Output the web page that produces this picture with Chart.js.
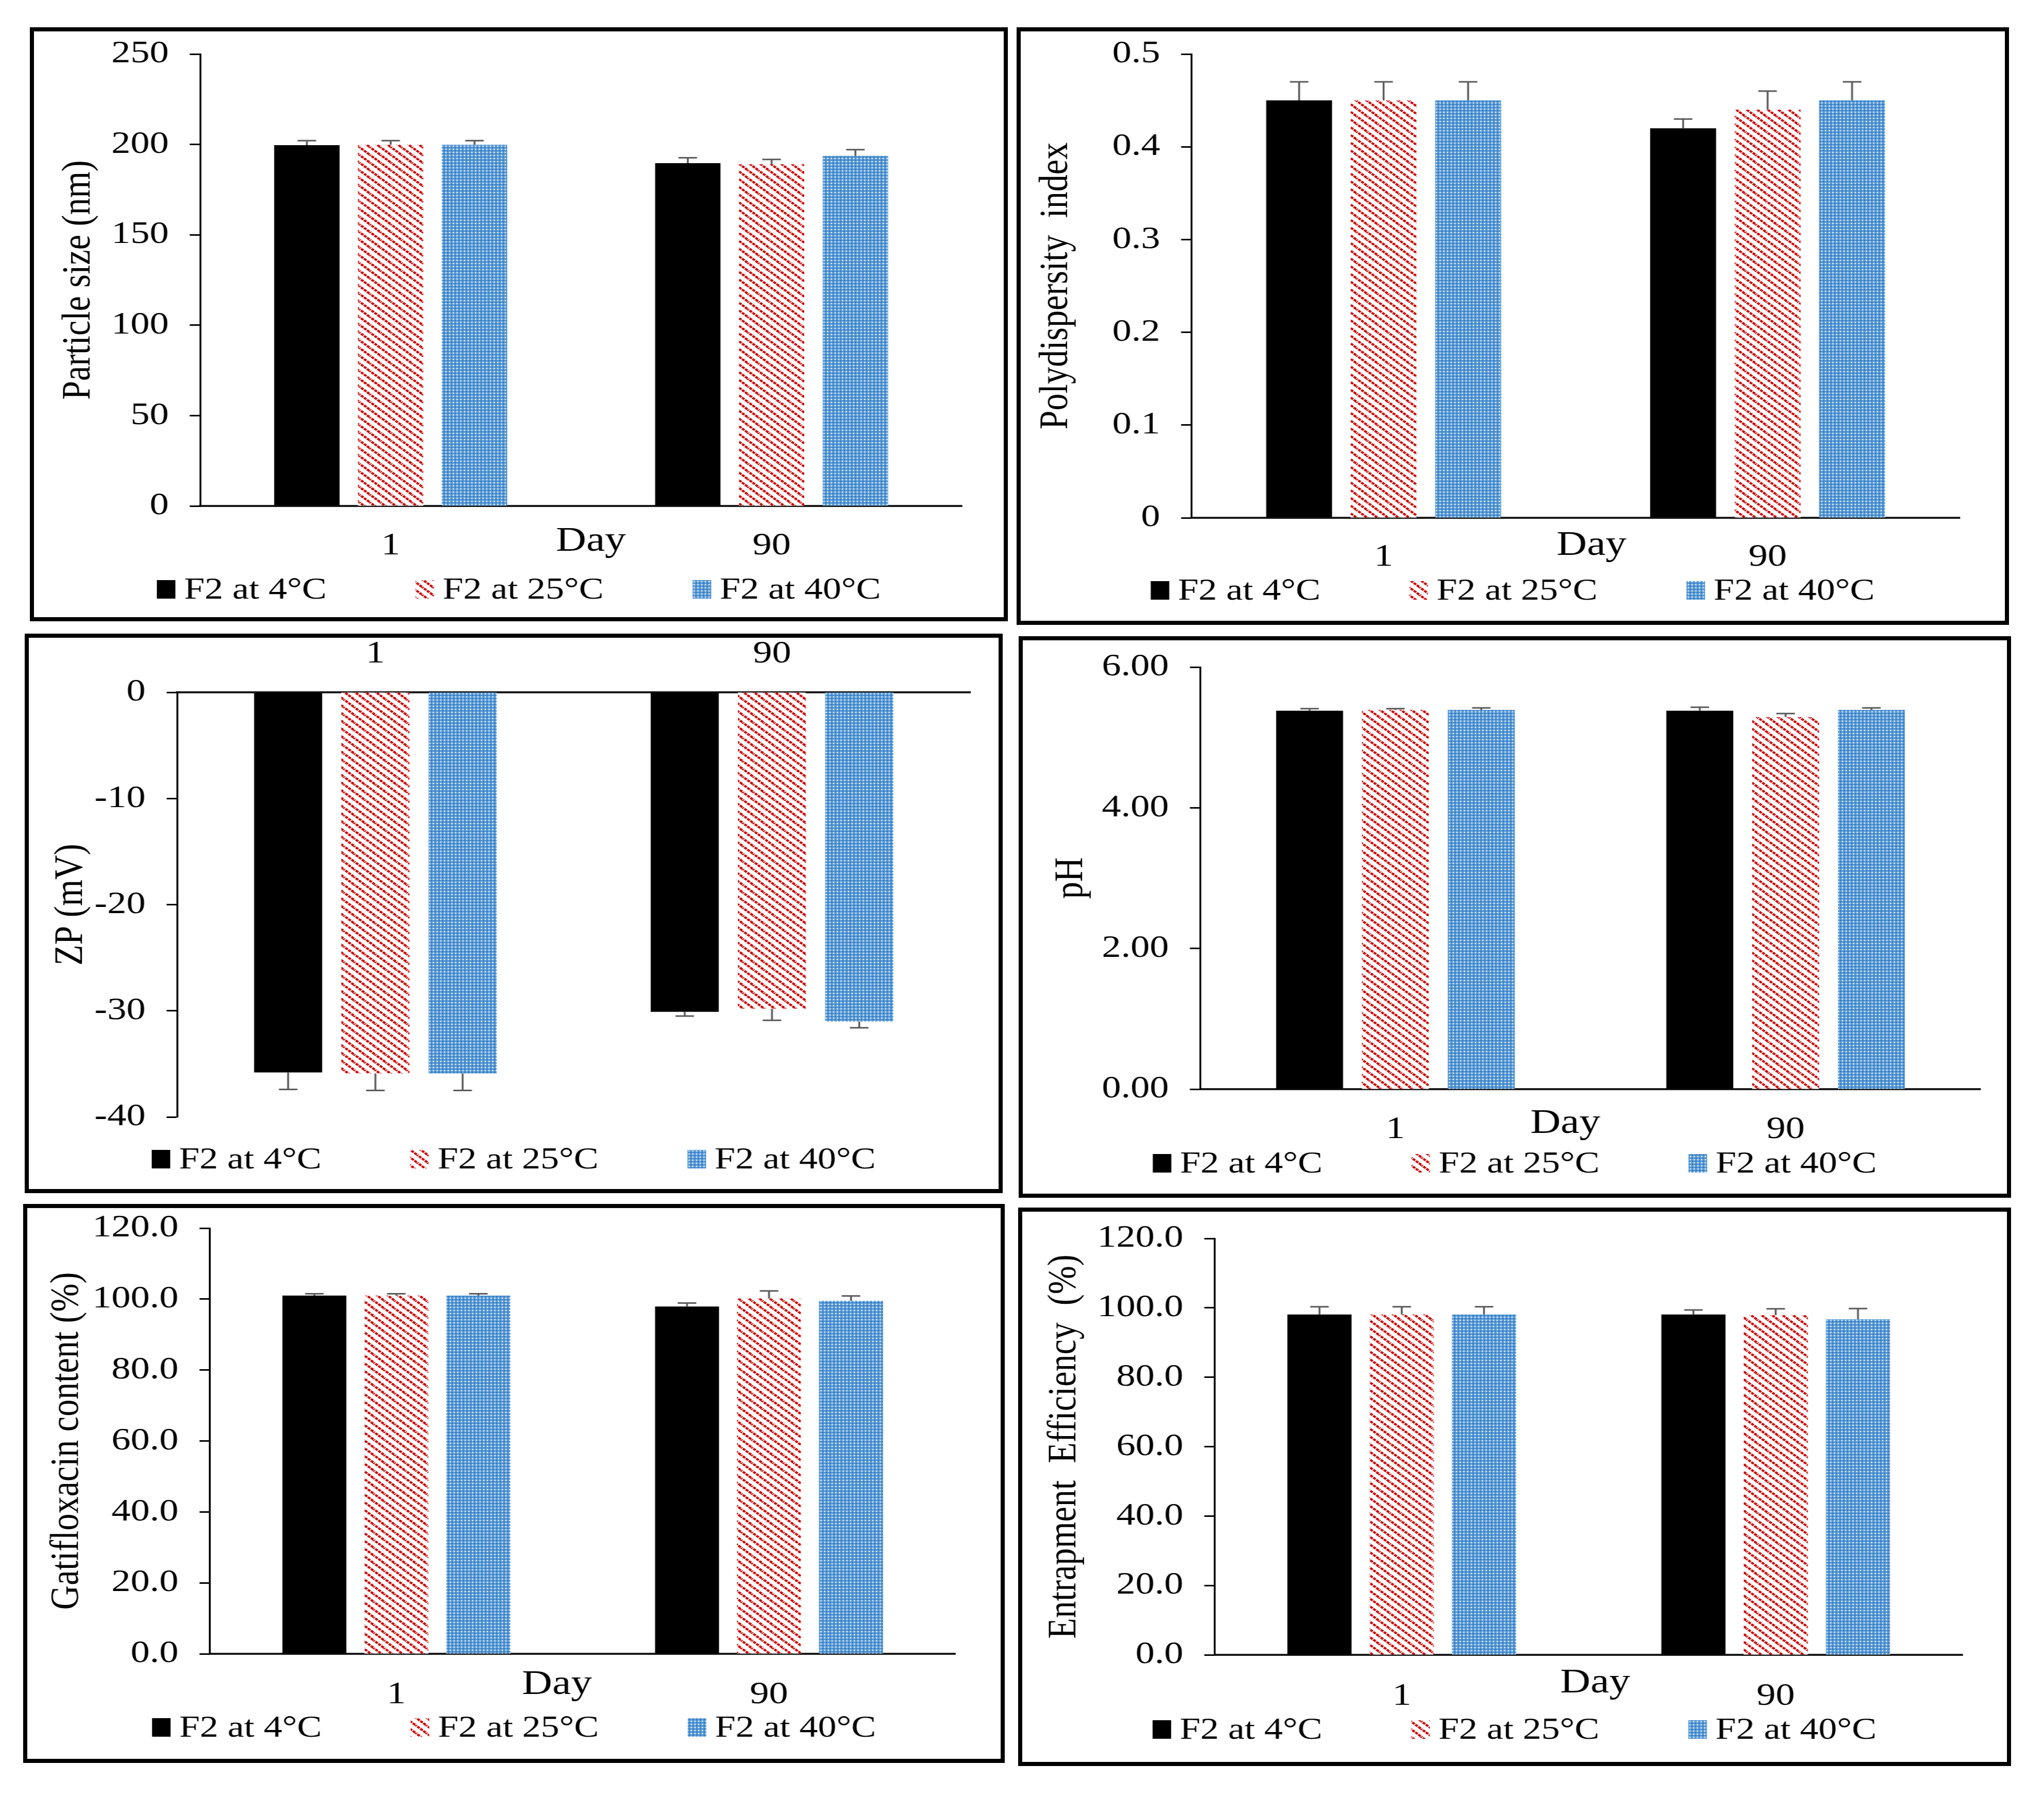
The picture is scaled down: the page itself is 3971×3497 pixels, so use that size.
<!DOCTYPE html>
<html>
<head>
<meta charset="utf-8">
<script src="https://cdn.jsdelivr.net/npm/chart.js@4.4.0/dist/chart.umd.min.js"></script>
<style>
html, body { margin: 0; padding: 0; background: #fff; }
body { width: 3971px; height: 3497px; position: relative; overflow: hidden; }
.panel { position: absolute; border: 8px solid #000; box-sizing: border-box; background: #fff; overflow: hidden; }
.stretch { position: absolute; left: 0; top: 0; transform-origin: 0 0; transform: scaleX(1.2); }
</style>
</head>
<body>
<script>
// Categories and series
const days = ['1', '90'];
const seriesNames = ['F2 at 4°C', 'F2 at 25°C', 'F2 at 40°C'];

// Particle size (nm)
const size4 = [199.6, 189.6];
const size25 = [199.8, 189.0];
const size40 = [199.8, 193.7];
const sizeErr4 = [2.5, 3.0];
const sizeErr25 = [2.3, 2.7];
const sizeErr40 = [2.3, 3.4];

// Polydispersity index
const pdi4 = [0.45, 0.42];
const pdi25 = [0.45, 0.44];
const pdi40 = [0.45, 0.45];
const pdiErr4 = [0.02, 0.01];
const pdiErr25 = [0.02, 0.02];
const pdiErr40 = [0.02, 0.02];

// Zeta potential (mV)
const zp4 = [-35.8, -30.1];
const zp25 = [-35.9, -29.8];
const zp40 = [-35.9, -31.0];
const zpErr4 = [1.6, 0.4];
const zpErr25 = [1.6, 1.1];
const zpErr40 = [1.6, 0.6];

// pH
const ph4 = [5.38, 5.38];
const ph25 = [5.39, 5.29];
const ph40 = [5.39, 5.39];
const phErr4 = [0.03, 0.05];
const phErr25 = [0.02, 0.05];
const phErr40 = [0.03, 0.03];

// Gatifloxacin content (%)
const gat4 = [101.0, 97.9];
const gat25 = [101.0, 100.2];
const gat40 = [101.0, 99.5];
const gatErr4 = [0.5, 1.0];
const gatErr25 = [0.5, 2.1];
const gatErr40 = [0.5, 1.4];

// Entrapment efficiency (%)
const ee4 = [98.1, 98.1];
const ee25 = [98.1, 97.9];
const ee40 = [98.1, 96.7];
const eeErr4 = [2.2, 1.3];
const eeErr25 = [2.2, 1.8];
const eeErr40 = [2.2, 3.1];

// y axes: [min, max, step]
const sizeTicks = [0, 250, 50];
const pdiTicks = [0, 0.5, 0.1];
const zpTicks = [-40, 0, 10];
const phTicks = [0, 6, 2];
const gatTicks = [0, 120, 20];
const eeTicks = [0, 120, 20];

const S = 1.2;   // the figure is stretched sideways
const FRAME = 8;
const FONT = '"Liberation Serif", "Times New Roman", serif';

// fill patterns
function stripePattern() {
    const w = 17, h = 15;
    const c = document.createElement('canvas');
    c.width = w; c.height = h;
    const g = c.getContext('2d');
    g.fillStyle = '#fff';
    g.fillRect(0, 0, w, h);
    g.strokeStyle = '#c80000';
    g.lineWidth = 4;
    g.setLineDash([5, 1.5]);
    for (const off of [-w, 0, w]) {
        g.beginPath();
        g.moveTo(off - w, -h);
        g.lineTo(off + 2 * w, 2 * h);
        g.stroke();
    }
    return g.createPattern(c, 'repeat');
}

function checkerPattern() {
    const c = document.createElement('canvas');
    c.width = 6; c.height = 6;
    const g = c.getContext('2d');
    g.fillStyle = '#5b9bd5';
    g.fillRect(0, 0, 6, 6);
    g.fillStyle = '#ffffff';
    g.fillRect(0, 0, 2, 2);
    g.fillStyle = '#1f6bc0';
    g.fillRect(3, 3, 2, 2);
    return g.createPattern(c, 'repeat');
}

const fills = ['#000000', stripePattern(), checkerPattern()];

// error bars, legend and the "Day" label
const extras = {
    id: 'extras',
    afterDatasetsDraw(chart) {
        const ctx = chart.ctx;
        const y = chart.scales.y;
        ctx.save();
        ctx.strokeStyle = '#595959';
        ctx.lineWidth = 3;
        chart.data.datasets.forEach((ds, i) => {
            chart.getDatasetMeta(i).data.forEach((bar, j) => {
                const v = ds.data[j];
                const end = y.getPixelForValue(v + Math.sign(v) * ds.errors[j]);
                ctx.beginPath();
                ctx.moveTo(bar.x, bar.y);
                ctx.lineTo(bar.x, end);
                ctx.moveTo(bar.x - 15, end);
                ctx.lineTo(bar.x + 15, end);
                ctx.stroke();
            });
        });
        ctx.restore();
    },
    afterDraw(chart, args, opts) {
        const ctx = chart.ctx;
        ctx.save();
        ctx.textBaseline = 'middle';
        ctx.fillStyle = '#000';
        if (opts.day) {
            ctx.font = '68px ' + FONT;
            ctx.textAlign = 'center';
            ctx.fillText('Day', opts.day[0], opts.day[1]);
        }
        // legend
        ctx.font = '60px ' + FONT;
        ctx.textAlign = 'left';
        const boxW = 30, boxH = 36, gap = 14, itemGap = 144;
        const items = chart.data.datasets.map(ds => ({
            label: ds.label,
            fill: ds.backgroundColor,
            w: boxW + gap + ctx.measureText(ds.label).width
        }));
        const total = items.reduce((a, it) => a + it.w, 0) + itemGap * (items.length - 1);
        let x = chart.width / 2 - total / 2;
        const ly = opts.legendY;
        items.forEach(it => {
            ctx.fillStyle = it.fill;
            ctx.fillRect(x, ly - boxH / 2, boxW, boxH);
            ctx.fillStyle = '#000';
            ctx.fillText(it.label, x + boxW + gap, ly + 2);
            x += it.w + itemGap;
        });
        ctx.restore();
    }
};

// panel frames and plot areas, in page pixels
const panels = [
    { box: [58, 53, 1958, 1207], axisX: 389, plotTop: 105, plotBottom: 983, plotRight: 1869,
      titleX: 153, labelY: 1053, legendY: 1145, day: [1148, 1052],
      title: 'Particle size (nm)', series: [size4, size25, size40], errors: [sizeErr4, sizeErr25, sizeErr40],
      ticks: sizeTicks, fmt: v => String(v) },
    { box: [1975, 53, 3903, 1214], axisX: 2315, plotTop: 105, plotBottom: 1006, plotRight: 3807,
      titleX: 2052, labelY: 1075, legendY: 1147, day: [3092, 1060],
      title: 'Polydispersity  index', series: [pdi4, pdi25, pdi40], errors: [pdiErr4, pdiErr25, pdiErr40],
      ticks: pdiTicks, fmt: v => (v === 0 ? '0' : v.toFixed(1)) },
    { box: [48, 1231, 1948, 2318], axisX: 344, plotTop: 1345, plotBottom: 2170, plotRight: 1885,
      titleX: 138, labelY: 1279, legendY: 2252, day: null, xTop: true,
      title: 'ZP (mV)', series: [zp4, zp25, zp40], errors: [zpErr4, zpErr25, zpErr40],
      ticks: zpTicks, fmt: v => String(v) },
    { box: [1979, 1236, 3907, 2327], axisX: 2332, plotTop: 1296, plotBottom: 2116, plotRight: 3848,
      titleX: 2082, labelY: 2187, legendY: 2260, day: [3041, 2183],
      title: 'pH', series: [ph4, ph25, ph40], errors: [phErr4, phErr25, phErr40],
      ticks: phTicks, fmt: v => v.toFixed(2) },
    { box: [45, 2339, 1952, 3425], axisX: 408, plotTop: 2386, plotBottom: 3213, plotRight: 1856,
      titleX: 131, labelY: 3285, legendY: 3356, day: [1082, 3273],
      title: 'Gatifloxacin content (%)', series: [gat4, gat25, gat40], errors: [gatErr4, gatErr25, gatErr40],
      ticks: gatTicks, fmt: v => v.toFixed(1) },
    { box: [1978, 2346, 3907, 3431], axisX: 2360, plotTop: 2406, plotBottom: 3215, plotRight: 3813,
      titleX: 2069, labelY: 3288, legendY: 3360, day: [3099, 3270],
      title: 'Entrapment  Efficiency  (%)', series: [ee4, ee25, ee40], errors: [eeErr4, eeErr25, eeErr40],
      ticks: eeTicks, fmt: v => v.toFixed(1) }
];

panels.forEach(p => {
    const [L, T, R, Bt] = p.box;
    const div = document.createElement('div');
    div.className = 'panel';
    div.style.cssText = `left:${L}px;top:${T}px;width:${R - L}px;height:${Bt - T}px;`;
    document.body.appendChild(div);

    const W = Math.round((R - L - 2 * FRAME) / S);
    const H = Bt - T - 2 * FRAME;
    const wrap = document.createElement('div');
    wrap.className = 'stretch';
    const canvas = document.createElement('canvas');
    canvas.width = W;
    canvas.height = H;
    wrap.appendChild(canvas);
    div.appendChild(wrap);

    const cx = x => (x - L - FRAME) / S;
    const cy = y => y - T - FRAME;
    const xTop = !!p.xTop;

    new Chart(canvas.getContext('2d'), {
        type: 'bar',
        data: {
            labels: days,
            datasets: p.series.map((data, i) => ({
                label: seriesNames[i],
                data: data,
                errors: p.errors[i],
                backgroundColor: fills[i],
                borderWidth: 0,
                categoryPercentage: 0.66,
                barPercentage: 0.78
            }))
        },
        options: {
            responsive: false,
            animation: false,
            devicePixelRatio: 1,
            layout: {
                padding: {
                    left: 0,
                    right: W - cx(p.plotRight),
                    top: xTop ? 0 : cy(p.plotTop),
                    bottom: xTop ? H - cy(p.plotBottom) : 0
                }
            },
            plugins: {
                legend: { display: false },
                tooltip: { enabled: false },
                extras: {
                    legendY: cy(p.legendY),
                    day: p.day ? [cx(p.day[0]), cy(p.day[1])] : null
                }
            },
            scales: {
                x: {
                    position: xTop ? 'top' : 'bottom',
                    grid: { display: false },
                    border: { display: true, color: '#1a1a1a', width: 4 },
                    ticks: {
                        color: '#000',
                        font: { family: FONT, size: 62, lineHeight: 1 },
                        padding: xTop ? p.plotTop - p.labelY - 31 : p.labelY - p.plotBottom - 31
                    },
                    afterFit: s => {
                        s.height = xTop ? cy(p.plotTop) : H - cy(p.plotBottom);
                        s.paddingLeft = 0;
                        s.paddingRight = 0;
                    }
                },
                y: {
                    min: p.ticks[0],
                    max: p.ticks[1],
                    ticks: {
                        stepSize: p.ticks[2],
                        color: '#000',
                        font: { family: FONT, size: 62, lineHeight: 1 },
                        padding: 34,
                        callback: v => p.fmt(v)
                    },
                    grid: { drawOnChartArea: false, drawTicks: true, tickLength: 17, tickWidth: 3, tickColor: '#000' },
                    border: { display: true, color: '#000', width: 3 },
                    title: {
                        display: true,
                        text: p.title,
                        color: '#000',
                        font: { family: FONT, size: 66, lineHeight: 1 },
                        padding: { top: cx(p.titleX) - 33, bottom: 0 }
                    },
                    afterFit: s => {
                        s.width = cx(p.axisX);
                        // keep the plot area where the frame puts it
                        s.paddingTop = 0;
                        s.paddingBottom = 0;
                    }
                }
            }
        },
        plugins: [extras]
    });
});
</script>
</body>
</html>
